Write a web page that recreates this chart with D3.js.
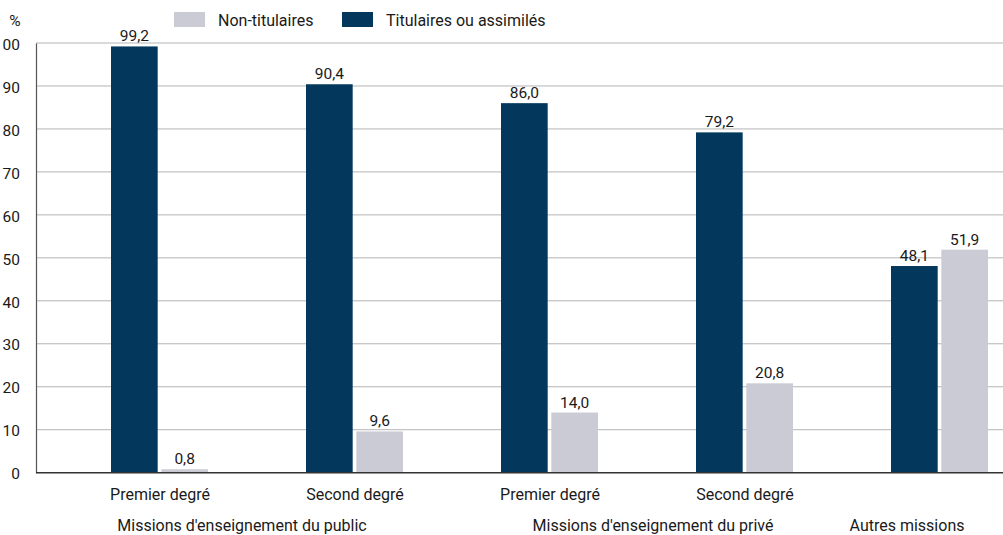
<!DOCTYPE html>
<html><head><meta charset="utf-8">
<script src="https://cdn.jsdelivr.net/npm/d3@7"></script>
<style>
html,body{margin:0;padding:0;background:#fff;}
svg text{font-family:Roboto,"Liberation Sans",sans-serif;fill:#1a1a1a;}
</style></head>
<body><svg id="c" width="1003" height="535"></svg>
<script>
const categories = ["Premier degré (public)", "Second degré (public)", "Premier degré (privé)", "Second degré (privé)", "Autres missions"];
const categoryLabels = ["Premier degré", "Second degré", "Premier degré", "Second degré", ""];
const titulaires = [99.2, 90.4, 86.0, 79.2, 48.1];
const nonTitulaires = [0.8, 9.6, 14.0, 20.8, 51.9];
const yTicks = [0, 10, 20, 30, 40, 50, 60, 70, 80, 90, 100];
const groupLabels = ["Missions d'enseignement du public", "Missions d'enseignement du privé", "Autres missions"];
const seriesNames = ["Non-titulaires", "Titulaires ou assimilés"];

const colDark = "#03385c", colLight = "#cbcbd6";
const FONT = 'Roboto,"Liberation Sans",sans-serif';
const svg = d3.select("#c");
const x0 = 36, x1 = 1003, yTop = 43, yBase = 472.7;

const y = d3.scaleLinear().domain([0, 100]).range([yBase, yTop]);
const x = d3.scalePoint().domain(categories).range([159.5, 939.5]);
const inner = d3.scaleBand().domain(["tit", "non"]).range([-48.5, 48.5]).paddingInner(7/97);

// grid
svg.append("g").selectAll("line").data(yTicks.filter(d => d > 0)).join("line")
  .attr("x1", x0).attr("x2", x1).attr("y1", d => y(d)).attr("y2", d => y(d))
  .attr("stroke", "#b4b4b4").attr("stroke-width", 1);

// y axis
const yAxis = d3.axisLeft(y).tickValues(yTicks).tickSize(0).tickPadding(16).tickFormat(d3.format("d"));
const ga = svg.append("g").attr("transform", `translate(${x0},0)`).call(yAxis);
ga.select(".domain").attr("stroke", "#555").attr("stroke-width", 1.2);
ga.selectAll("text").attr("font-size", 15.5).attr("fill", "#1a1a1a").attr("dy", "0.4em")
  .style("font-family", FONT);

svg.append("text").attr("x", 15).attr("y", 26).attr("text-anchor", "middle").attr("font-size", 15.5).text("%");

// bars
const rows = categories.map((c, i) => ({c, tit: titulaires[i], non: nonTitulaires[i]}));
const g = svg.append("g");
rows.forEach(r => {
  [["tit", r.tit, colDark], ["non", r.non, colLight]].forEach(([k, v, col]) => {
    const bx = x(r.c) + inner(k);
    g.append("rect").attr("x", bx).attr("width", inner.bandwidth())
      .attr("y", y(v)).attr("height", y(0) - y(v)).attr("fill", col);
    g.append("text").attr("x", bx + inner.bandwidth() / 2).attr("y", y(v) - 5)
      .attr("text-anchor", "middle").attr("font-size", 15.5).text(d3.format(".1f")(v).replace(".", ","));
  });
});

// baseline
svg.append("line").attr("x1", x0).attr("x2", x1).attr("y1", y(0)).attr("y2", y(0))
  .attr("stroke", "#333").attr("stroke-width", 1.5);

// category labels
const xAxis = d3.axisBottom(x).tickSize(0).tickPadding(0).tickFormat((d, i) => categoryLabels[i]);
const gx = svg.append("g").attr("transform", `translate(0,${y(0)})`).call(xAxis);
gx.select(".domain").remove();
gx.selectAll("text").attr("font-size", 16).attr("fill", "#1a1a1a").attr("y", 27).attr("dy", null)
  .style("font-family", FONT);

// group labels
const groupX = [242, 653, 907];
svg.append("g").selectAll("text").data(groupLabels).join("text")
  .attr("x", (d, i) => groupX[i]).attr("y", 531).attr("text-anchor", "middle")
  .attr("font-size", 16).text(d => d);

// legend
const leg = [{n: seriesNames[0], c: colLight, x: 174}, {n: seriesNames[1], c: colDark, x: 342}];
leg.forEach(l => {
  svg.append("rect").attr("x", l.x).attr("y", 12).attr("width", 31).attr("height", 15).attr("fill", l.c);
  svg.append("text").attr("x", l.x + 44).attr("y", 26).attr("font-size", 16).text(l.n);
});
</script></body></html>
